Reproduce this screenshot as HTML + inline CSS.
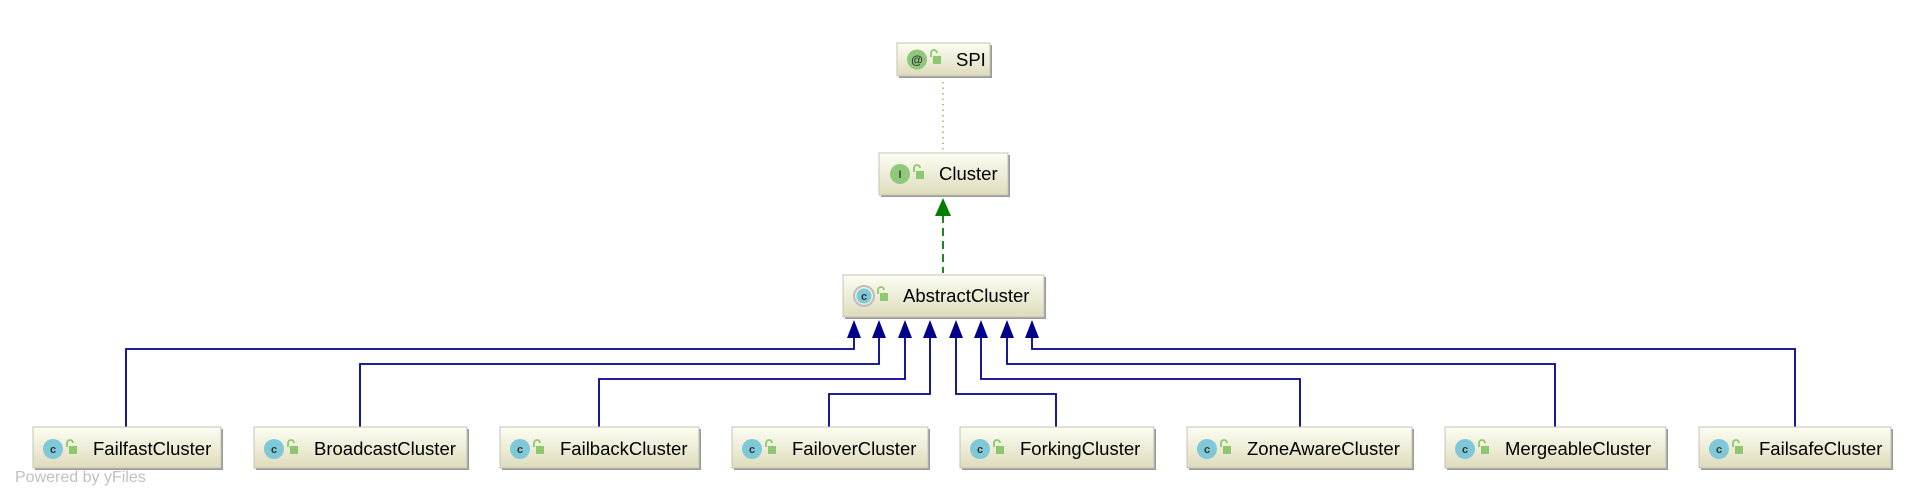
<!DOCTYPE html>
<html><head><meta charset="utf-8"><style>
html,body{margin:0;padding:0;background:#fff;}
svg{display:block;}
text{font-family:"Liberation Sans",sans-serif;}
</style></head><body>
<svg width="1923" height="501" viewBox="0 0 1923 501" xmlns="http://www.w3.org/2000/svg">
<defs>
<linearGradient id="g" x1="0" y1="0" x2="0" y2="1">
<stop offset="0" stop-color="#fdfdf3"/><stop offset="1" stop-color="#dedcbc"/>
</linearGradient>
<g id="lock"><path d="M-4,-1 v-4 a3,3 0 0 1 6,0" fill="none" stroke="#8cc870" stroke-width="1.8"/><rect x="-2" y="-2" width="8" height="8" fill="#8cc870"/></g>
</defs>

<line x1="943" y1="82" x2="943" y2="150" stroke="#a0a050" stroke-width="1.3" stroke-dasharray="1.5,4"/>
<line x1="943" y1="215" x2="943" y2="273" stroke="#1a8a1a" stroke-width="2" stroke-dasharray="8,5"/>
<polygon points="943,198 935,216 951,216" fill="#007f00"/>

<g fill="none" stroke="#00008b" stroke-width="1.8">
<polyline points="126,427 126,349 854,349 854,336"/>
<polyline points="360,427 360,364 879,364 879,336"/>
<polyline points="599,427 599,379 905,379 905,336"/>
<polyline points="829,427 829,394 930,394 930,336"/>
<polyline points="1056,427 1056,394 956,394 956,336"/>
<polyline points="1300,427 1300,379 981,379 981,336"/>
<polyline points="1555,427 1555,364 1007,364 1007,336"/>
<polyline points="1795,427 1795,349 1032,349 1032,336"/>
</g>
<g fill="#00008b">
<polygon points="854,320 847,338 861,338"/>
<polygon points="879,320 872,338 886,338"/>
<polygon points="905,320 898,338 912,338"/>
<polygon points="930,320 923,338 937,338"/>
<polygon points="956,320 949,338 963,338"/>
<polygon points="981,320 974,338 988,338"/>
<polygon points="1007,320 1000,338 1014,338"/>
<polygon points="1032,320 1025,338 1039,338"/>
</g>

<g>
<rect x="899" y="45" width="93" height="33" fill="#9a9a9a"/>
<rect x="897" y="43" width="93" height="33" fill="url(#g)" stroke="#c4c4b4"/>
<circle cx="917" cy="59.5" r="10" fill="#8fc87a"/><text x="917" y="64" font-size="12" font-weight="bold" text-anchor="middle" fill="#333">@</text>
<use href="#lock" x="935" y="58"/>
<text x="956" y="66" font-size="18.5" fill="#000">SPI</text>
</g>
<g>
<rect x="881" y="155" width="129" height="42" fill="#9a9a9a"/>
<rect x="879" y="153" width="129" height="42" fill="url(#g)" stroke="#c4c4b4"/>
<circle cx="900" cy="174" r="10" fill="#8fc87a"/><text x="900" y="178" font-size="11" font-weight="bold" text-anchor="middle" fill="#444">I</text>
<use href="#lock" x="918" y="173"/>
<text x="939" y="180" font-size="18.5" fill="#000">Cluster</text>
</g>
<g>
<rect x="845" y="277" width="201" height="42" fill="#9a9a9a"/>
<rect x="843" y="275" width="201" height="42" fill="url(#g)" stroke="#c4c4b4"/>
<circle cx="864" cy="296" r="10" fill="none" stroke="#bbb" stroke-width="2"/>
<circle cx="864" cy="296" r="7.5" fill="#7ec8d8"/><text x="864" y="300" font-size="11" font-weight="bold" text-anchor="middle" fill="#333">c</text>
<use href="#lock" x="882" y="295"/>
<text x="903" y="302" font-size="18.5" fill="#000">AbstractCluster</text>
</g>

<g font-size="18.5">
<g transform="translate(33,427)"><rect x="2" y="2" width="188" height="41" fill="#9a9a9a"/><rect width="188" height="41" fill="url(#g)" stroke="#c4c4b4"/><circle cx="20" cy="22" r="10" fill="#7ec8d8"/><text x="20" y="26" font-size="11" font-weight="bold" text-anchor="middle" fill="#333">c</text><use href="#lock" x="38" y="21"/><text x="60" y="28">FailfastCluster</text></g>
<g transform="translate(254,427)"><rect x="2" y="2" width="213" height="41" fill="#9a9a9a"/><rect width="213" height="41" fill="url(#g)" stroke="#c4c4b4"/><circle cx="20" cy="22" r="10" fill="#7ec8d8"/><text x="20" y="26" font-size="11" font-weight="bold" text-anchor="middle" fill="#333">c</text><use href="#lock" x="38" y="21"/><text x="60" y="28">BroadcastCluster</text></g>
<g transform="translate(500,427)"><rect x="2" y="2" width="199" height="41" fill="#9a9a9a"/><rect width="199" height="41" fill="url(#g)" stroke="#c4c4b4"/><circle cx="20" cy="22" r="10" fill="#7ec8d8"/><text x="20" y="26" font-size="11" font-weight="bold" text-anchor="middle" fill="#333">c</text><use href="#lock" x="38" y="21"/><text x="60" y="28">FailbackCluster</text></g>
<g transform="translate(732,427)"><rect x="2" y="2" width="196" height="41" fill="#9a9a9a"/><rect width="196" height="41" fill="url(#g)" stroke="#c4c4b4"/><circle cx="20" cy="22" r="10" fill="#7ec8d8"/><text x="20" y="26" font-size="11" font-weight="bold" text-anchor="middle" fill="#333">c</text><use href="#lock" x="38" y="21"/><text x="60" y="28">FailoverCluster</text></g>
<g transform="translate(960,427)"><rect x="2" y="2" width="194" height="41" fill="#9a9a9a"/><rect width="194" height="41" fill="url(#g)" stroke="#c4c4b4"/><circle cx="20" cy="22" r="10" fill="#7ec8d8"/><text x="20" y="26" font-size="11" font-weight="bold" text-anchor="middle" fill="#333">c</text><use href="#lock" x="38" y="21"/><text x="60" y="28">ForkingCluster</text></g>
<g transform="translate(1187,427)"><rect x="2" y="2" width="225" height="41" fill="#9a9a9a"/><rect width="225" height="41" fill="url(#g)" stroke="#c4c4b4"/><circle cx="20" cy="22" r="10" fill="#7ec8d8"/><text x="20" y="26" font-size="11" font-weight="bold" text-anchor="middle" fill="#333">c</text><use href="#lock" x="38" y="21"/><text x="60" y="28">ZoneAwareCluster</text></g>
<g transform="translate(1445,427)"><rect x="2" y="2" width="221" height="41" fill="#9a9a9a"/><rect width="221" height="41" fill="url(#g)" stroke="#c4c4b4"/><circle cx="20" cy="22" r="10" fill="#7ec8d8"/><text x="20" y="26" font-size="11" font-weight="bold" text-anchor="middle" fill="#333">c</text><use href="#lock" x="38" y="21"/><text x="60" y="28">MergeableCluster</text></g>
<g transform="translate(1699,427)"><rect x="2" y="2" width="192" height="41" fill="#9a9a9a"/><rect width="192" height="41" fill="url(#g)" stroke="#c4c4b4"/><circle cx="20" cy="22" r="10" fill="#7ec8d8"/><text x="20" y="26" font-size="11" font-weight="bold" text-anchor="middle" fill="#333">c</text><use href="#lock" x="38" y="21"/><text x="60" y="28">FailsafeCluster</text></g>
</g>

<text x="15" y="482" font-size="16" fill="#c0c0c0">Powered by yFiles</text>
</svg>
</body></html>
